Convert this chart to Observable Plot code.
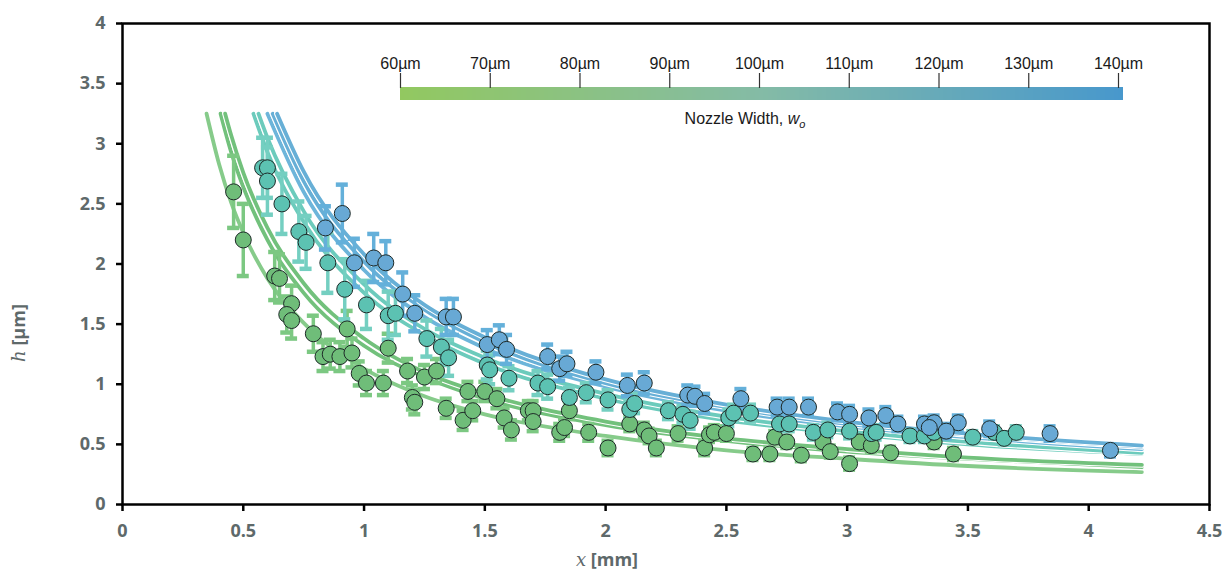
<!DOCTYPE html>
<html><head><meta charset="utf-8">
<script src="https://cdn.jsdelivr.net/npm/d3@7"></script>
<script src="https://cdn.jsdelivr.net/npm/@observablehq/plot@0.6"></script>
<style>
body{margin:0;background:#fff;}
#wrap{position:relative;width:1226px;height:571px;overflow:hidden;}
#legend{position:absolute;left:360px;top:40px;}
#chart g[aria-label*="tick label"] text{font-weight:700 !important;fill:#5e696a !important;font-family:'Open Sans',sans-serif !important;font-size:18px !important;}
#chart g[aria-label="x-axis tick"] path, #chart g[aria-label="y-axis tick"] path{stroke:#000 !important;stroke-width:2.5px !important;}
.axlabel{font-family:'Open Sans',sans-serif;font-weight:700;font-size:18px;fill:#5e696a;}
.axlabel .m{font-family:'DejaVu Serif',serif;font-style:italic;font-weight:400;}
</style></head>
<body><div id="wrap"><div id="chart"></div><div id="legend"></div></div>
<script>
// ---- data ----
const xTicks = [0, 0.5, 1, 1.5, 2, 2.5, 3, 3.5, 4, 4.5];
const yTicks = [0, 0.5, 1, 1.5, 2, 2.5, 3, 3.5, 4];
const legendTicks = [60, 70, 80, 90, 100, 110, 120, 130, 140];

const blueX = [0.91,0.84,0.96,1.04,1.09,1.16,1.21,1.34,1.37,1.51,1.56,1.59,1.76,1.81,1.84,1.96,2.09,2.16,2.34,2.37,2.41,2.56,2.71,2.76,2.84,2.96,3.01,3.09,3.16,3.21,3.32,3.36,3.34,3.46,3.41,3.59,3.84,4.09];
const blueH = [2.42,2.30,2.01,2.05,2.01,1.75,1.59,1.56,1.56,1.33,1.37,1.29,1.23,1.13,1.17,1.10,0.99,1.01,0.91,0.90,0.84,0.88,0.81,0.81,0.81,0.77,0.75,0.72,0.74,0.67,0.67,0.68,0.64,0.68,0.61,0.63,0.59,0.45];
const blueErr = [0.24,0.18,0.2,0.2,0.18,0.18,0.15,0.15,0.15,0.12,0.12,0.12,0.1,0.1,0.1,0.09,0.09,0.09,0.08,0.08,0.08,0.08,0.07,0.07,0.07,0.07,0.07,0.07,0.07,0.06,0.06,0.06,0.06,0.06,0.06,0.06,0.06,0.05];

const tealX = [0.58,0.60,0.60,0.66,0.73,0.76,0.85,0.92,1.01,1.10,1.13,1.26,1.32,1.35,1.51,1.52,1.60,1.72,1.76,1.85,1.92,2.01,2.10,2.12,2.26,2.32,2.35,2.51,2.53,2.60,2.72,2.76,2.86,2.92,3.01,3.10,3.12,3.26,3.32,3.36,3.52,3.61,3.65,3.70];
const tealH = [2.80,2.80,2.69,2.50,2.27,2.18,2.01,1.79,1.66,1.57,1.59,1.38,1.31,1.22,1.16,1.12,1.05,1.01,0.98,0.89,0.93,0.87,0.79,0.84,0.78,0.75,0.70,0.72,0.76,0.76,0.67,0.67,0.60,0.62,0.61,0.59,0.60,0.57,0.57,0.60,0.56,0.60,0.55,0.60];
const tealErr = [0.25,0.25,0.28,0.25,0.25,0.22,0.25,0.25,0.2,0.2,0.18,0.15,0.15,0.15,0.12,0.12,0.1,0.1,0.1,0.08,0.08,0.08,0.08,0.08,0.07,0.07,0.07,0.07,0.07,0.07,0.06,0.06,0.06,0.06,0.06,0.06,0.06,0.05,0.05,0.05,0.05,0.05,0.05,0.05];

const greenX = [0.46,0.50,0.63,0.65,0.70,0.68,0.70,0.79,0.93,0.83,0.86,0.90,0.95,1.10,0.98,1.01,1.08,1.18,1.25,1.30,1.20,1.21,1.34,1.41,1.43,1.45,1.50,1.55,1.58,1.61,1.68,1.70,1.70,1.81,1.83,1.85,1.93,2.01,2.10,2.16,2.18,2.21,2.30,2.41,2.43,2.45,2.50,2.61,2.68,2.70,2.75,2.81,2.90,2.93,3.01,3.05,3.10,3.18,3.36,3.44];
const greenH = [2.60,2.20,1.90,1.88,1.67,1.58,1.53,1.42,1.46,1.23,1.25,1.23,1.26,1.30,1.09,1.01,1.01,1.11,1.06,1.11,0.89,0.85,0.80,0.70,0.94,0.78,0.94,0.88,0.72,0.62,0.78,0.78,0.69,0.60,0.64,0.78,0.60,0.47,0.67,0.62,0.57,0.47,0.59,0.47,0.58,0.60,0.59,0.42,0.42,0.56,0.52,0.41,0.52,0.44,0.34,0.52,0.49,0.43,0.52,0.42];
const greenErr = [0.3,0.3,0.2,0.2,0.15,0.15,0.15,0.15,0.15,0.12,0.12,0.12,0.12,0.12,0.1,0.1,0.1,0.1,0.1,0.1,0.1,0.1,0.08,0.08,0.08,0.08,0.08,0.08,0.08,0.08,0.08,0.08,0.08,0.07,0.07,0.07,0.07,0.06,0.06,0.06,0.06,0.06,0.06,0.06,0.06,0.06,0.06,0.05,0.05,0.05,0.05,0.05,0.05,0.05,0.05,0.05,0.05,0.05,0.05,0.05];

// fitted curves: [x, h]
const fitG1 = [[0.348,3.25],[0.4,2.83],[0.45,2.51],[0.5,2.26],[0.6,1.88],[0.75,1.51],[1,1.13],[1.25,0.90],[1.5,0.75],[2,0.57],[2.5,0.45],[3,0.38],[3.5,0.32],[4.22,0.27]];
const fitG2 = [[0.406,3.25],[0.45,2.93],[0.5,2.64],[0.6,2.2],[0.75,1.76],[1,1.32],[1.25,1.06],[1.5,0.88],[2,0.66],[2.5,0.53],[3,0.44],[3.5,0.38],[4.22,0.31]];
const fitG3 = [[0.425,3.25],[0.45,3.07],[0.5,2.76],[0.6,2.3],[0.75,1.84],[1,1.38],[1.25,1.10],[1.5,0.92],[2,0.69],[2.5,0.55],[3,0.46],[3.5,0.39],[4.22,0.33]];
const fitT1 = [[0.542,3.25],[0.6,2.93],[0.75,2.35],[1,1.76],[1.25,1.41],[1.5,1.17],[2,0.88],[2.5,0.70],[3,0.59],[3.5,0.50],[4.22,0.42]];
const fitT2 = [[0.563,3.25],[0.6,3.05],[0.75,2.44],[1,1.83],[1.25,1.46],[1.5,1.22],[2,0.92],[2.5,0.73],[3,0.61],[3.5,0.52],[4.22,0.43]];
const fitB1 = [[0.6,3.25],[0.75,2.6],[1,1.95],[1.25,1.56],[1.5,1.3],[2,0.98],[2.5,0.78],[3,0.65],[3.5,0.56],[4.22,0.46]];
const fitB2 = [[0.622,3.25],[0.75,2.69],[1,2.02],[1.25,1.62],[1.5,1.35],[2,1.01],[2.5,0.81],[3,0.67],[3.5,0.58],[4.22,0.48]];
const fitB3 = [[0.64,3.25],[0.75,2.77],[1,2.08],[1.25,1.66],[1.5,1.39],[2,1.04],[2.5,0.83],[3,0.69],[3.5,0.59],[4.22,0.49]];

// ---- styles ----
const style = {
  green: {dot: "#6fbd79", err: "#7cc882"},
  teal:  {dot: "#5cc2b2", err: "#74cfc1"},
  blue:  {dot: "#68a9d5", err: "#64b0da"}
};
const fits = [
  {pts: fitG1, color: "#86cb8a"},
  {pts: fitG2, color: "#72c17c"},
  {pts: fitG3, color: "#72c17c"},
  {pts: fitT1, color: "#6ccbbc"},
  {pts: fitT2, color: "#6ccbbc"},
  {pts: fitB1, color: "#6db5da"},
  {pts: fitB2, color: "#67afd6"},
  {pts: fitB3, color: "#67afd6"}
];

const rows = (xs, hs, es) => xs.map((x, i) => ({x, h: hs[i], e: es[i]}));
const groups = [
  {key: "green", data: rows(greenX, greenH, greenErr)},
  {key: "teal", data: rows(tealX, tealH, tealErr)},
  {key: "blue", data: rows(blueX, blueH, blueErr)}
];

const fmt = d => String(d);

const marks = [];
for (const f of fits) {
  marks.push(Plot.line(f.pts, {x: d => d[0], y: d => d[1], stroke: "white", strokeWidth: 6, curve: "monotone-x"}));
  marks.push(Plot.line(f.pts, {x: d => d[0], y: d => d[1], stroke: f.color, strokeWidth: 3.8, curve: "monotone-x"}));
}
for (const g of groups) {
  const c = style[g.key].err;
  marks.push(Plot.ruleX(g.data, {x: "x", y1: d => d.h - d.e, y2: d => d.h + d.e, stroke: c, strokeWidth: 3.5}));
  marks.push(Plot.ruleY(g.data, {y: d => d.h + d.e, x1: "x", x2: "x", insetLeft: -6, insetRight: -6, stroke: c, strokeWidth: 4.5}));
  marks.push(Plot.ruleY(g.data, {y: d => d.h - d.e, x1: "x", x2: "x", insetLeft: -6, insetRight: -6, stroke: c, strokeWidth: 4.5}));
}
for (const g of groups) {
  marks.push(Plot.dot(g.data, {x: "x", y: "h", r: 8, fill: style[g.key].dot, stroke: "#1e2a28", strokeWidth: 1}));
}
marks.push(Plot.frame({stroke: "black", strokeWidth: 2.5}));
marks.push(Plot.axisX({ticks: xTicks, tickFormat: fmt, tickSize: 7, tickPadding: 13, label: null}));
marks.push(Plot.axisY({ticks: yTicks, tickFormat: fmt, tickSize: 6, tickPadding: 11, label: null}));

const chart = Plot.plot({
  width: 1226, height: 571,
  marginLeft: 122, marginRight: 17, marginTop: 23, marginBottom: 67,
  style: {fontFamily: "'Open Sans', sans-serif", fontSize: "18px", background: "white", overflow: "visible"},
  x: {domain: [0, 4.5]},
  y: {domain: [0, 4]},
  marks
});
document.getElementById("chart").append(chart);

const svg = d3.select(chart);
const yl = svg.append("text").attr("class", "axlabel")
  .attr("transform", "translate(25,333) rotate(-90)")
  .attr("text-anchor", "middle");
yl.append("tspan").attr("class", "m").text("h");
yl.append("tspan").text(" [µm]");
const xl = svg.append("text").attr("class", "axlabel")
  .attr("x", 607).attr("y", 566)
  .attr("text-anchor", "middle");
xl.append("tspan").attr("class", "m").text("x");
xl.append("tspan").text(" [mm]");

// ---- colour-bar legend ----
const legendStops = d3.range(60, 140.5, 0.5);
const legend = Plot.plot({
  width: 800, height: 100,
  marginLeft: 40, marginRight: 42, marginTop: 47, marginBottom: 40,
  style: {fontFamily: "'Liberation Sans', Arial, sans-serif", fontSize: "16px", background: "transparent", overflow: "visible"},
  x: {domain: [60, 140]},
  y: {domain: [0, 1], axis: null},
  color: {type: "linear", domain: [60, 100, 140], range: ["#92c860", "#84bba6", "#4898cc"]},
  marks: [
    Plot.rect(legendStops, {x1: d => d, x2: d => d + 0.6, y1: 0, y2: 1, fill: d => d, shapeRendering: "crispEdges"}),
    Plot.axisX({anchor: "top", ticks: legendTicks, tickSize: 15, tickPadding: 4, tickFormat: d => d + "µm", label: null,
      color: "#1a1a1a", stroke: "#333", strokeWidth: 1.2, fontSize: 16})
  ]
});
document.getElementById("legend").append(legend);
const lt = d3.select(legend).append("text")
  .attr("x", 385).attr("y", 84).attr("text-anchor", "middle")
  .attr("font-family", "'Liberation Sans', Arial, sans-serif").attr("font-size", 16).attr("fill", "#1a1a1a");
lt.append("tspan").text("Nozzle Width, ");
lt.append("tspan").attr("font-style", "italic").text("w");
lt.append("tspan").attr("font-style", "italic").attr("font-size", 11).attr("dy", 4).text("o");
</script>
</body></html>
